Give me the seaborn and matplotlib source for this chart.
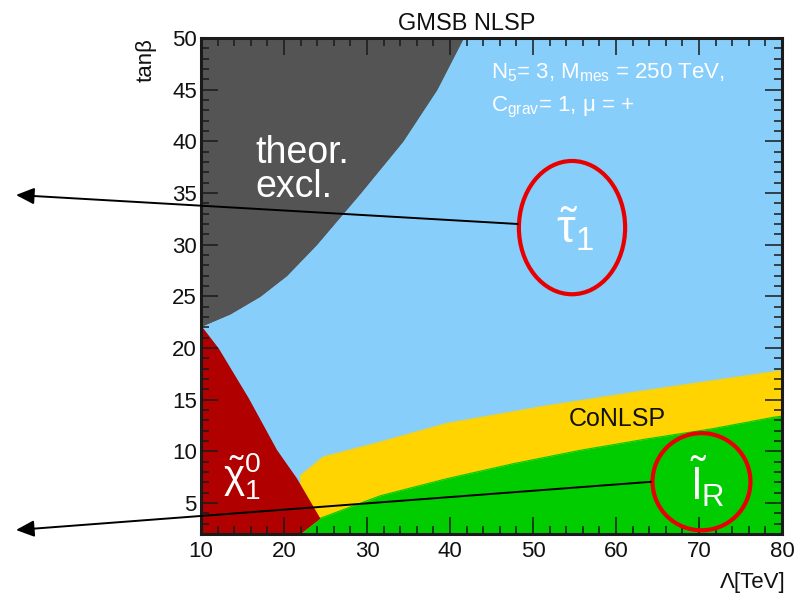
import numpy as np
import matplotlib
matplotlib.use("Agg")
import matplotlib.pyplot as plt
import seaborn as sns
from matplotlib.patches import Ellipse
from matplotlib.ticker import MultipleLocator

# ---------------- data ----------------
lam_range = [10, 80]
tanb_range = [2, 50]

# theoretically excluded region: boundary Lambda(tanb)
theor_tanb = [22.1, 23.3, 25.0, 27.0, 30.0, 35.0, 40.0, 45.0, 50.0]
theor_lam = [10.0, 13.5, 17.1, 20.3, 23.9, 29.2, 34.3, 38.4, 41.6]

# neutralino NLSP region boundary (Lambda, tanb), clockwise from bottom
neut_tanb = [2.0, 3.5, 7.35, 10.1, 15.1, 19.9, 22.1]
neut_lam = [21.9, 24.3, 21.5, 19.1, 15.7, 12.1, 10.0]

# CoNLSP region upper edge
conlsp_lam = [21.9, 24.7, 31.6, 39.6, 51.6, 63.7, 79.0, 80.0]
conlsp_top = [7.6, 9.45, 10.9, 12.7, 14.4, 15.9, 17.7, 17.8]

# right-handed slepton NLSP region upper edge
slep_lam = [21.9, 24.3, 31.6, 39.6, 47.6, 55.7, 63.7, 71.7, 79.0, 80.0]
slep_top = [2.0, 3.5, 5.7, 7.35, 8.8, 10.1, 11.2, 12.2, 13.3, 13.4]

# ---------------- style ----------------
sns.set_theme(style="ticks")
plt.rcParams["font.family"] = ["Liberation Sans", "DejaVu Sans"]
plt.rcParams["mathtext.fontset"] = "custom"
plt.rcParams["mathtext.rm"] = "Liberation Sans"
plt.rcParams["mathtext.it"] = "Liberation Sans"
plt.rcParams["mathtext.bf"] = "Liberation Sans:bold"
plt.rcParams["mathtext.default"] = "regular"

c_blue = "#87cefa"
c_gray = "#545454"
c_red = "#b00000"
c_yellow = "#ffd400"
c_green = "#00cc00"
c_ring = "#e80000"

W, H = 794, 593
fig = plt.figure(figsize=(W / 100, H / 100), dpi=100)
ax = fig.add_axes([201 / W, 1 - 534 / H, 581 / W, 496 / H])
ax.set_facecolor(c_blue)
ax.set_axisbelow(False)

ymin = tanb_range[0]

# CoNLSP (yellow) band, then slepton (green) on top of it
ax.fill_between(conlsp_lam, ymin, conlsp_top, color=c_yellow, lw=0, zorder=1.0)
sns.lineplot(x=conlsp_lam, y=conlsp_top, color=c_yellow, lw=0.8, ax=ax, zorder=1.0)
ax.fill_between(slep_lam, ymin, slep_top, color=c_green, lw=0, zorder=1.2)
sns.lineplot(x=slep_lam, y=slep_top, color=c_green, lw=0.8, ax=ax, zorder=1.2)

# neutralino region
ax.fill([lam_range[0]] + neut_lam, [ymin] + neut_tanb, color=c_red, lw=0, zorder=1.4)
sns.lineplot(x=neut_lam, y=neut_tanb, sort=False, color=c_red, lw=0.8, ax=ax, zorder=1.4)

# theoretically excluded region
ax.fill_betweenx(theor_tanb, lam_range[0], theor_lam, color=c_gray, lw=0, zorder=1.6)
sns.lineplot(x=theor_lam, y=theor_tanb, sort=False, color=c_gray, lw=0.8, ax=ax, zorder=1.6)

ax.set_xlim(*lam_range)
ax.set_ylim(*tanb_range)
ax.set_xlabel("")
ax.set_ylabel("")
ax.xaxis.set_major_locator(MultipleLocator(10))
ax.xaxis.set_minor_locator(MultipleLocator(2))
ax.yaxis.set_major_locator(MultipleLocator(5))
ax.yaxis.set_minor_locator(MultipleLocator(1))
ax.tick_params(which="both", direction="in", top=True, right=True,
               color="#1a1a1a", width=1.1, labelsize=16, labelcolor="#111111")
ax.tick_params(which="major", length=12)
ax.tick_params(which="minor", length=6)
ax.tick_params(axis="y", pad=3)
ax.tick_params(axis="x", pad=5)
for s in ax.spines.values():
    s.set_linewidth(2.2)
    s.set_color("#1a1a1a")
    s.set_zorder(6)

# region labels
ax.text(16.5, 37.9, "theor.", color="white", fontsize=27, ha="left", va="baseline", zorder=7)
ax.text(16.5, 34.6, "excl.", color="white", fontsize=27, ha="left", va="baseline", zorder=7)
ax.text(45.0, 46.1, r"N$_{5}$= 3, M$_{mes}$ = 250 TeV,", color="white", fontsize=16,
        ha="left", va="baseline", zorder=7)
ax.text(45.0, 42.9, r"C$_{grav}$= 1, μ = +", color="white", fontsize=16,
        ha="left", va="baseline", zorder=7)
ax.text(55.0, 31.5, r"$\tilde{\tau}_{1}$", color="white", fontsize=34,
        ha="center", va="center", zorder=7)
ax.text(14.9, 7.6, r"$\tilde{\chi}^{0}_{1}$", color="white", fontsize=29,
        ha="center", va="center", zorder=7)
ax.text(71.0, 7.1, r"$\tilde{l}_{R}$", color="white", fontsize=32,
        ha="center", va="center", zorder=7)
ax.text(60.2, 13.1, "CoNLSP", color="#111111", fontsize=18,
        ha="center", va="center", zorder=7)

# red rings
ax.add_patch(Ellipse((54.7, 31.65), 12.8, 12.9, fill=False, ec=c_ring, lw=3, zorder=8))
ax.add_patch(Ellipse((70.3, 7.06), 11.8, 9.4, fill=False, ec=c_ring, lw=3, zorder=8,
                     clip_on=False))

# arrows leaving the plot to the left
arrow_kw = dict(arrowstyle="-|>,head_length=0.55,head_width=0.25", mutation_scale=20,
                lw=1.4, color="black", shrinkA=0, shrinkB=0)
ax.annotate("", xy=(16 / W, 1 - 195 / H), xycoords="figure fraction",
            xytext=(48.2, 32.0), textcoords="data", arrowprops=arrow_kw,
            annotation_clip=False, zorder=9)
ax.annotate("", xy=(16 / W, 1 - 530 / H), xycoords="figure fraction",
            xytext=(64.2, 7.05), textcoords="data", arrowprops=arrow_kw,
            annotation_clip=False, zorder=9)

# titles and axis labels
fig.text(466.7 / W, 1 - 30 / H, "GMSB NLSP", ha="center", va="baseline",
         fontsize=17, color="#111111")
fig.text(157 / W, 1 - 38 / H, "tanβ", rotation=90, ha="right", va="top",
         fontsize=16, color="#111111")
fig.text(786 / W, 1 - 588 / H, "Λ[TeV]", ha="right", va="baseline",
         fontsize=16, color="#111111")

fig.savefig("out.png", dpi=100)
